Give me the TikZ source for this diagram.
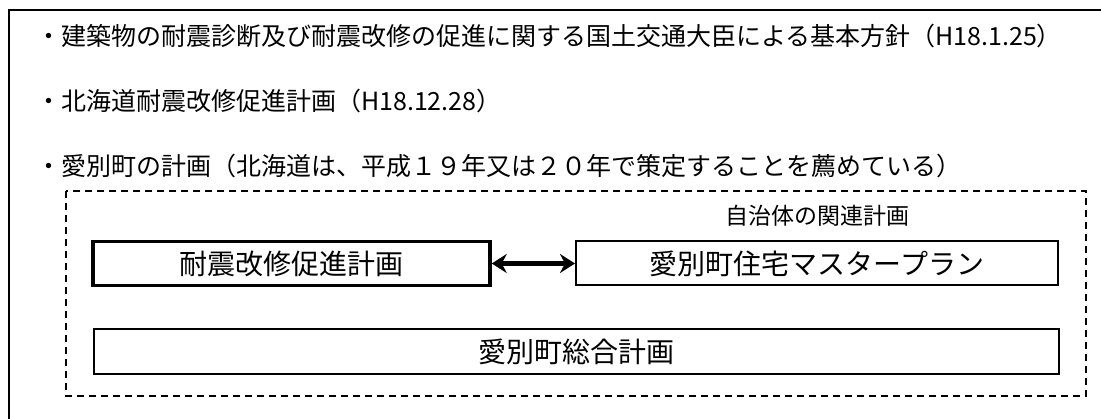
\documentclass[tikz,border=0pt]{standalone}
\usepackage{fontspec}
\setmainfont{Noto Sans CJK JP}
\usetikzlibrary{arrows.meta}
\tikzset{
  frameline/.style={line width=2pt},
  lineitem/.style={anchor=west, inner sep=0pt, font=\fontsize{25pt}{30pt}\selectfont},
  grouplabel/.style={inner sep=0pt, font=\fontsize{23pt}{27pt}\selectfont},
  groupbox/.style={line width=2pt, dash pattern=on 7pt off 5pt},
  planbox/.style={draw, line width=2pt, inner sep=0pt, minimum height=44pt, font=\fontsize{28pt}{33pt}\selectfont},
  mainbox/.style={planbox, line width=3.5pt},
  linkarrow/.style={line width=5pt, {Stealth[length=15pt,width=19pt,inset=5pt]}-{Stealth[length=15pt,width=19pt,inset=5pt]}}
}
\begin{document}
\begin{tikzpicture}[x=1pt,y=-1pt]
\useasboundingbox (0,0) rectangle (1101,419);
\coordinate (fbl) at (9,419);
\coordinate (ftl) at (9,10);
\coordinate (ftr) at (1101,10);
\draw[frameline] (fbl) -- (ftl) -- (ftr);
\node[lineitem] (t1) at (36,36) {・建築物の耐震診断及び耐震改修の促進に関する国土交通大臣による基本方針（H18.1.25）};
\node[lineitem] (t2) at (36,101) {・北海道耐震改修促進計画（H18.12.28）};
\node[lineitem] (t3) at (36,166) {・愛別町の計画（北海道は、平成１９年又は２０年で策定することを薦めている）};
\draw[groupbox] (66,191) rectangle (1086,396);
\node[grouplabel] (lab) at (817,216) {自治体の関連計画};
\node[mainbox, minimum width=397pt] (b1) at (291.5,263.5) {耐震改修促進計画};
\node[planbox, minimum width=482pt] (b2) at (817,263.5) {愛別町住宅マスタープラン};
\node[planbox, minimum width=965pt, minimum height=45pt] (b3) at (576.5,352) {愛別町総合計画};
\draw[linkarrow] (b1.east) -- (b2.west);
\end{tikzpicture}
\end{document}
